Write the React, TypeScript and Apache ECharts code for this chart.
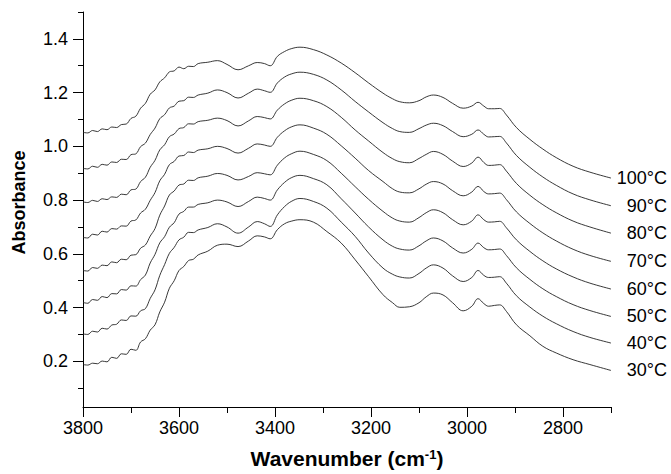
import React, { useEffect, useRef } from "react";
import * as echarts from "echarts";

const wavenumbers = [
  3800, 3790, 3780, 3770, 3760, 3750, 3740, 3730, 3720, 3710, 3700, 3690, 3680, 3670, 3660, 3650, 3640,
  3630, 3620, 3610, 3600, 3590, 3580, 3570, 3560,
  3540, 3520, 3500,
  3477, 3455, 3437, 3422, 3410, 3395, 3380, 3365, 3348, 3320, 3292, 3262, 3233, 3205, 3175, 3155, 3140,
  3120, 3100, 3085, 3070, 3050, 3030, 3008, 2990, 2977, 2965, 2955, 2943, 2932, 2918, 2897, 2869, 2842,
  2814, 2779, 2744, 2700,
];

const t30 = [
  0.188, 0.186, 0.193, 0.191, 0.201, 0.198, 0.215, 0.211, 0.228, 0.226, 0.245, 0.241, 0.272, 0.284, 0.316, 0.336, 0.384,
  0.42, 0.472, 0.5, 0.538, 0.553, 0.575, 0.58, 0.596,
  0.61, 0.632, 0.636,
  0.627, 0.648, 0.667, 0.663, 0.656, 0.69, 0.712, 0.722, 0.727, 0.718, 0.683, 0.64, 0.578, 0.515, 0.448, 0.418, 0.401,
  0.403, 0.418, 0.44, 0.454, 0.447, 0.418, 0.388, 0.405, 0.433, 0.415, 0.405, 0.408, 0.41, 0.386, 0.336, 0.295, 0.256,
  0.231, 0.206, 0.188, 0.166,
];
const t40 = [
  0.302, 0.3, 0.312, 0.309, 0.323, 0.32, 0.335, 0.338, 0.354, 0.352, 0.369, 0.368, 0.388, 0.396, 0.434, 0.466, 0.52,
  0.56, 0.602, 0.624, 0.652, 0.662, 0.68, 0.679, 0.689,
  0.698, 0.712, 0.7,
  0.677, 0.7, 0.72, 0.712, 0.702, 0.745, 0.776, 0.796, 0.806, 0.795, 0.77, 0.718, 0.665, 0.603, 0.547, 0.524, 0.514,
  0.51, 0.527, 0.547, 0.559, 0.547, 0.518, 0.497, 0.512, 0.538, 0.52, 0.512, 0.513, 0.515, 0.491, 0.444, 0.402, 0.368,
  0.34, 0.311, 0.289, 0.268,
];
const t50 = [
  0.419, 0.416, 0.43, 0.427, 0.441, 0.437, 0.452, 0.451, 0.467, 0.465, 0.481, 0.48, 0.504, 0.521, 0.566, 0.598, 0.641,
  0.664, 0.699, 0.716, 0.748, 0.758, 0.774, 0.774, 0.784,
  0.79, 0.8, 0.793,
  0.776, 0.795, 0.811, 0.806, 0.8, 0.838, 0.866, 0.884, 0.892, 0.88, 0.857, 0.805, 0.752, 0.7, 0.652, 0.628, 0.618,
  0.614, 0.63, 0.648, 0.659, 0.648, 0.622, 0.603, 0.617, 0.64, 0.623, 0.615, 0.616, 0.618, 0.594, 0.548, 0.505, 0.47,
  0.441, 0.411, 0.389, 0.367,
];
const t60 = [
  0.538, 0.536, 0.549, 0.546, 0.558, 0.556, 0.57, 0.567, 0.58, 0.578, 0.595, 0.597, 0.621, 0.633, 0.666, 0.694, 0.744,
  0.778, 0.819, 0.834, 0.856, 0.86, 0.874, 0.873, 0.883,
  0.889, 0.899, 0.892,
  0.875, 0.888, 0.902, 0.898, 0.894, 0.93, 0.957, 0.973, 0.982, 0.97, 0.947, 0.9, 0.85, 0.803, 0.758, 0.733, 0.722,
  0.718, 0.735, 0.753, 0.764, 0.753, 0.727, 0.708, 0.722, 0.745, 0.727, 0.718, 0.719, 0.721, 0.697, 0.652, 0.609, 0.574,
  0.544, 0.514, 0.491, 0.469,
];
const t70 = [
  0.661, 0.659, 0.673, 0.67, 0.684, 0.681, 0.694, 0.692, 0.704, 0.703, 0.722, 0.726, 0.752, 0.766, 0.799, 0.828, 0.872,
  0.896, 0.932, 0.944, 0.964, 0.966, 0.979, 0.977, 0.986,
  0.991, 1.0, 0.992,
  0.975, 0.993, 1.009, 1.005, 1.0, 1.034, 1.058, 1.073, 1.08, 1.068, 1.045, 1.002, 0.956, 0.91, 0.869, 0.842, 0.83,
  0.827, 0.842, 0.859, 0.869, 0.86, 0.835, 0.816, 0.83, 0.851, 0.832, 0.823, 0.824, 0.826, 0.802, 0.756, 0.713, 0.678,
  0.648, 0.617, 0.594, 0.572,
];
const t80 = [
  0.793, 0.791, 0.799, 0.795, 0.805, 0.802, 0.812, 0.81, 0.822, 0.82, 0.838, 0.841, 0.869, 0.885, 0.922, 0.948, 0.987,
  1.006, 1.036, 1.046, 1.066, 1.07, 1.084, 1.083, 1.092,
  1.097, 1.105, 1.096,
  1.076, 1.095, 1.111, 1.107, 1.102, 1.135, 1.158, 1.172, 1.179, 1.17, 1.148, 1.108, 1.061, 1.02, 0.977, 0.954, 0.943,
  0.939, 0.955, 0.97, 0.981, 0.97, 0.945, 0.925, 0.938, 0.96, 0.94, 0.929, 0.93, 0.932, 0.908, 0.862, 0.818, 0.783,
  0.753, 0.722, 0.7, 0.677,
];
const t90 = [
  0.918, 0.916, 0.926, 0.922, 0.933, 0.93, 0.942, 0.94, 0.952, 0.951, 0.969, 0.972, 0.999, 1.012, 1.044, 1.068, 1.103,
  1.118, 1.143, 1.15, 1.168, 1.17, 1.183, 1.182, 1.191,
  1.198, 1.21, 1.2,
  1.18, 1.198, 1.213, 1.207, 1.201, 1.236, 1.258, 1.27, 1.276, 1.268, 1.247, 1.21, 1.167, 1.128, 1.088, 1.066, 1.055,
  1.052, 1.066, 1.079, 1.086, 1.077, 1.055, 1.036, 1.045, 1.061, 1.045, 1.035, 1.036, 1.037, 1.013, 0.966, 0.922, 0.886,
  0.855, 0.823, 0.801, 0.779,
];
const t100 = [
  1.052, 1.05, 1.059, 1.055, 1.065, 1.062, 1.072, 1.07, 1.081, 1.083, 1.104, 1.112, 1.142, 1.16, 1.194, 1.21, 1.24,
  1.255, 1.277, 1.281, 1.295, 1.289, 1.298, 1.297, 1.308,
  1.313, 1.319, 1.305,
  1.285, 1.3, 1.312, 1.308, 1.3, 1.335, 1.353, 1.364, 1.369, 1.36, 1.34, 1.31, 1.274, 1.236, 1.198, 1.177, 1.166,
  1.162, 1.17, 1.184, 1.191, 1.182, 1.16, 1.142, 1.15, 1.164, 1.15, 1.14, 1.14, 1.141, 1.117, 1.07, 1.026, 0.99,
  0.958, 0.926, 0.904, 0.882,
];

const seriesNames = ["30°C", "40°C", "50°C", "60°C", "70°C", "80°C", "90°C", "100°C"];
const seriesValues = [t30, t40, t50, t60, t70, t80, t90, t100];

const xMajorTicks = [3800, 3600, 3400, 3200, 3000, 2800];
const xMinorTicks = [3700, 3500, 3300, 3100, 2900, 2700];
const yMajorTicks = [0.2, 0.4, 0.6, 0.8, 1.0, 1.2, 1.4];
const yMinorTicks = [0.1, 0.3, 0.5, 0.7, 0.9, 1.1, 1.3, 1.5];

const FONT = "'Liberation Sans', Arial, sans-serif";

export default function App() {
  const ref = useRef<HTMLDivElement>(null);
  useEffect(() => {
    document.body.style.margin = "0";
    const chart = echarts.init(ref.current!, null, { renderer: "svg" });
    const axisLineStyle = { color: "#000", width: 1 };
    chart.setOption({
      animation: false,
      backgroundColor: "#fff",
      textStyle: { fontFamily: FONT },
      grid: { left: 83, right: 60, top: 12, bottom: 67, containLabel: false },
      xAxis: [
        {
          type: "value",
          min: 2700,
          max: 3800,
          inverse: true,
          position: "bottom",
          splitLine: { show: false },
          axisLine: { lineStyle: axisLineStyle },
          axisTick: { show: true, length: 10, customValues: xMajorTicks, lineStyle: axisLineStyle },
          axisLabel: {
            customValues: xMajorTicks,
            formatter: (v: number) => String(v),
            color: "#000",
            fontSize: 18,
            fontFamily: FONT,
            margin: 12,
          },
          name: "{b|Wavenumber (cm}{s|-1}{b|)}",
          nameLocation: "middle",
          nameGap: 41,
          nameTextStyle: {
            rich: {
              b: { fontSize: 21, fontWeight: "bold", color: "#000", fontFamily: FONT },
              s: { fontSize: 13, fontWeight: "bold", color: "#000", fontFamily: FONT, verticalAlign: "top" },
            },
          },
        },
        {
          type: "value",
          min: 2700,
          max: 3800,
          inverse: true,
          position: "bottom",
          splitLine: { show: false },
          axisLine: { show: false },
          axisTick: { show: true, length: 6, customValues: xMinorTicks, lineStyle: axisLineStyle },
          axisLabel: { show: false },
        },
      ],
      yAxis: [
        {
          type: "value",
          min: 0.03,
          max: 1.5,
          position: "left",
          splitLine: { show: false },
          axisLine: { show: true, lineStyle: axisLineStyle },
          axisTick: { show: true, length: 10, customValues: yMajorTicks, lineStyle: axisLineStyle },
          axisLabel: {
            customValues: yMajorTicks,
            formatter: (v: number) => v.toFixed(1),
            color: "#000",
            fontSize: 18,
            fontFamily: FONT,
            margin: 15,
          },
          name: "Absorbance",
          nameLocation: "middle",
          nameGap: 55,
          nameRotate: 90,
          nameTextStyle: {
            fontSize: 18,
            fontWeight: "bold",
            color: "#000",
            fontFamily: FONT,
            padding: [0, 0, 0, 14],
          },
        },
        {
          type: "value",
          min: 0.03,
          max: 1.5,
          position: "left",
          splitLine: { show: false },
          axisLine: { show: false },
          axisTick: { show: true, length: 5, customValues: yMinorTicks, lineStyle: axisLineStyle },
          axisLabel: { show: false },
        },
      ],
      series: seriesNames.map((name, k) => ({
        name,
        type: "line",
        xAxisIndex: 0,
        yAxisIndex: 0,
        data: wavenumbers.map((w, i) => [w, seriesValues[k][i]]),
        showSymbol: false,
        smooth: 0.4,
        lineStyle: { color: "#222", width: 0.9 },
        endLabel: {
          show: true,
          distance: 4,
          offset: [60, 0],
          formatter: (p: any) => `{a|${p.seriesName}}`,
          rich: { a: { width: 51, align: "right", fontSize: 18, color: "#000", fontFamily: FONT } },
        },
        silent: true,
      })),
    });
    return () => chart.dispose();
  }, []);
  return <div ref={ref} style={{ position: "fixed", left: 0, top: 0, width: 671, height: 474 }} />;
}
